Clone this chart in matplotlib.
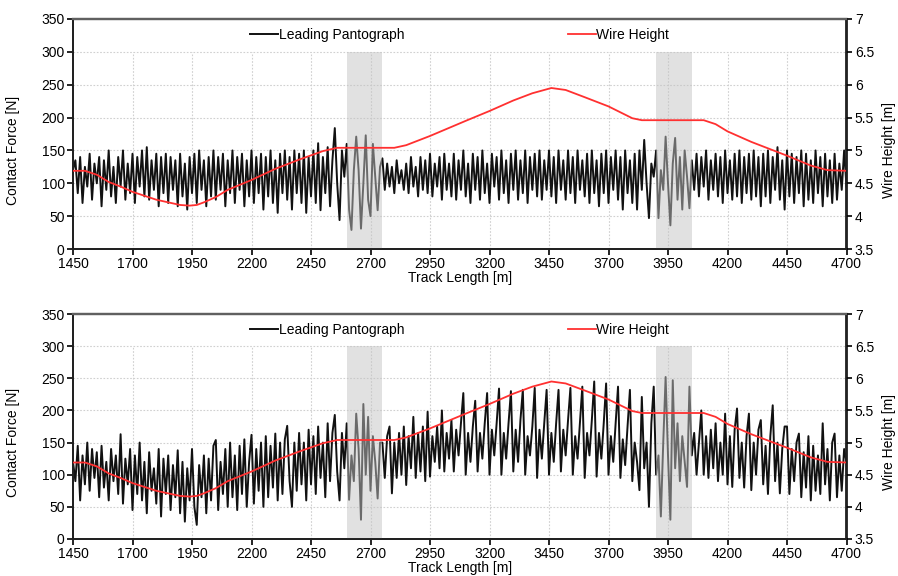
import numpy as np
import matplotlib
matplotlib.use("Agg")
import matplotlib.pyplot as plt

# track positions of the force samples (every 10 m)
track = np.arange(1450, 4701, 10)

# contact force [N], 10 values per 100 m row
force_top = [
    120, 135, 85, 140, 70, 125, 95, 145, 75, 130,
    100, 140, 65, 135, 90, 150, 80, 125, 70, 140,
    95, 150, 75, 130, 85, 145, 70, 140, 95, 150,
    80, 155, 75, 135, 90, 145, 65, 140, 85, 145,
    70, 140, 90, 135, 65, 145, 80, 130, 60, 140,
    85, 145, 70, 150, 90, 135, 65, 140, 80, 150,
    75, 140, 90, 145, 65, 135, 85, 150, 70, 140,
    90, 145, 65, 135, 80, 150, 70, 140, 85, 145,
    60, 140, 80, 150, 70, 135, 55, 145, 85, 150,
    75, 140, 60, 150, 85, 145, 70, 150, 55, 140,
    80, 150, 70, 161, 59, 140, 85, 155, 65, 135,
    184, 100, 44, 150, 110, 160, 60, 29, 120, 171,
    120, 31, 100, 173, 75, 50, 160, 110, 59, 125,
    138, 90, 130, 95, 125, 85, 135, 100, 120, 90,
    130, 85, 140, 95, 125, 80, 140, 90, 135, 85,
    145, 80, 130, 95, 140, 75, 145, 90, 130, 80,
    145, 75, 135, 90, 150, 80, 130, 70, 145, 90,
    140, 75, 150, 85, 130, 70, 145, 95, 140, 75,
    150, 85, 135, 70, 145, 90, 150, 75, 135, 85,
    150, 70, 140, 90, 145, 80, 150, 75, 135, 90,
    150, 80, 140, 70, 150, 90, 135, 75, 150, 85,
    140, 70, 150, 90, 135, 80, 145, 70, 150, 85,
    135, 65, 145, 85, 150, 70, 140, 90, 150, 75,
    140, 60, 150, 85, 135, 70, 145, 60, 150, 90,
    166, 100, 47, 130, 110, 150, 47, 120, 90, 171,
    100, 36, 130, 169, 75, 140, 60, 150, 110, 62,
    135, 90, 145, 80, 140, 95, 150, 75, 135, 90,
    145, 80, 140, 70, 150, 85, 135, 75, 145, 80,
    150, 70, 140, 85, 145, 75, 150, 80, 140, 65,
    145, 80, 150, 70, 140, 90, 155, 75, 135, 60,
    150, 80, 145, 70, 140, 85, 150, 65, 145, 75,
    135, 70, 150, 85, 140, 65, 145, 80, 135, 70,
    145, 75, 130, 90, 150, 95,
]

# contact force [N]
force_bottom = [
    120, 90, 145, 60, 130, 85, 150, 75, 140, 95,
    135, 65, 145, 80, 120, 60, 140, 90, 130, 70,
    163, 55, 125, 85, 140, 45, 130, 70, 150, 60,
    120, 40, 135, 75, 110, 55, 140, 35, 125, 70,
    130, 45, 115, 65, 138, 40, 120, 27, 110, 60,
    140, 50, 22, 115, 65, 130, 40, 125, 60, 145,
    154, 45, 120, 70, 140, 50, 150, 65, 130, 45,
    145, 70, 155, 50, 120, 162, 55, 140, 75, 150,
    50, 160, 65, 145, 80, 164, 60, 150, 70, 155,
    176, 90, 50, 150, 75, 165, 85, 150, 60, 170,
    85, 160, 70, 175, 95, 150, 65, 180, 90, 165,
    193, 105, 60, 165, 110, 180, 61, 130, 90, 195,
    140, 30, 210, 100, 190, 75, 160, 120, 63, 150,
    150, 95, 160, 175, 71, 150, 95, 165, 100, 175,
    84, 160, 110, 190, 95, 165, 105, 175, 90, 198,
    97, 160, 120, 175, 110, 200, 105, 165, 125, 185,
    105, 170, 130, 180, 227, 100, 165, 120, 175, 215,
    105, 165, 125, 180, 227, 100, 170, 130, 180, 234,
    100, 165, 125, 180, 230, 105, 170, 120, 185, 232,
    100, 160, 130, 175, 235, 95, 170, 125, 180, 232,
    100, 165, 120, 180, 232, 105, 170, 130, 185, 235,
    100, 160, 125, 180, 237, 95, 165, 130, 185, 245,
    97, 165, 125, 180, 242, 100, 160, 120, 180, 237,
    95, 155, 115, 175, 232, 90, 150, 120, 76, 221,
    110, 150, 50, 180, 237, 100, 130, 35, 150, 252,
    130, 30, 247, 110, 180, 90, 160, 120, 81, 237,
    130, 165, 100, 150, 200, 100, 160, 95, 170, 110,
    180, 90, 150, 100, 195, 85, 160, 81, 170, 203,
    95, 150, 80, 160, 195, 76, 150, 100, 170, 185,
    85, 145, 70, 160, 208, 90, 150, 71, 140, 175,
    175, 70, 140, 90, 150, 164, 65, 135, 80, 160,
    60, 145, 75, 130, 70, 180, 85, 140, 60, 150,
    164, 65, 130, 75, 140, 120,
]

# overhead wire height (right axis) [m]
wire_x = [1450, 1500, 1550, 1600, 1650, 1700, 1750, 1800, 1850, 1900,
          1940, 1970, 2000, 2050, 2100, 2200, 2300, 2400, 2500, 2560,
          2800, 2850, 2950, 3100, 3200, 3300, 3380, 3460, 3520, 3600,
          3700, 3800, 3840, 4100, 4150, 4200, 4300, 4450, 4550, 4620, 4700]
wire_h = [4.69, 4.69, 4.63, 4.52, 4.45, 4.37, 4.31, 4.25, 4.21, 4.17,
          4.16, 4.17, 4.21, 4.29, 4.40, 4.55, 4.72, 4.86, 4.99, 5.04,
          5.04, 5.08, 5.22, 5.45, 5.60, 5.76, 5.87, 5.95, 5.92, 5.81,
          5.67, 5.49, 5.46, 5.46, 5.40, 5.29, 5.13, 4.92, 4.77, 4.70, 4.69]

# highlighted sections
band_start = [2600, 3900]
band_end = [2750, 4050]

x_ticks = list(range(1450, 4701, 250))
force_ticks = list(range(0, 351, 50))
height_ticks = [3.5, 4, 4.5, 5, 5.5, 6, 6.5, 7]

plt.rcParams['font.family'] = ['Liberation Sans', 'DejaVu Sans']
plt.rcParams['font.size'] = 10

fig = plt.figure(figsize=(8.98, 5.76), dpi=100)
ax_top = fig.add_axes([73 / 898, 1 - 249 / 576, 773.5 / 898, 230 / 576])
ax_bot = fig.add_axes([73 / 898, 1 - 539 / 576, 773.5 / 898, 225 / 576])


def draw_panel(ax, force):
    ax.set_xlim(1450, 4700)
    ax.set_ylim(0, 350)
    ax.set_xticks(x_ticks)
    ax.set_yticks(force_ticks)

    # dotted grid, kept below the legend strip
    for y in force_ticks[1:-1]:
        ax.axhline(y, color='#d0d0d0', lw=0.8, ls=(0, (1.5, 1.5)), zorder=0)
    ax.vlines(x_ticks[1:-1], 0, 300, color='#d0d0d0', lw=0.8,
              linestyles=[(0, (1.5, 1.5))], zorder=0)

    line, = ax.plot(track, force, color='#111111', lw=1.4, zorder=2,
                    label='Leading Pantograph')
    for a, b in zip(band_start, band_end):
        ax.fill_between([a, b], 0, 300, color='#c4c4c4', alpha=0.5,
                        lw=0, zorder=3)

    ax.set_ylabel('Contact Force [N]')
    ax.yaxis.set_label_coords(-0.068, 0.43)
    ax.set_xlabel('Track Length [m]', labelpad=0)
    ax.tick_params(direction='out', length=4, width=1.2, pad=2)

    ax2 = ax.twinx()
    ax2.set_ylim(3.5, 7)
    ax2.set_yticks(height_ticks)
    ax2.set_yticklabels([f'{v:g}' for v in height_ticks])
    red, = ax2.plot(wire_x, wire_h, color='#ff3030', lw=1.3, zorder=4,
                    label='Wire Height')
    ax2.set_ylabel('Wire Height [m]')
    ax2.yaxis.set_label_coords(1.046, 0.43)
    ax2.tick_params(direction='out', length=4, width=1.2, pad=2)

    for a in (ax, ax2):
        for side in ('left', 'right', 'bottom'):
            a.spines[side].set_color('#202020')
            a.spines[side].set_linewidth(1.3)
        a.spines['top'].set_color('#606060')
        a.spines['top'].set_linewidth(1.6)

    ax2.legend([line, red], ['Leading Pantograph', 'Wire Height'],
               loc='upper center', bbox_to_anchor=(0.5, 1.0), ncol=2,
               frameon=False, handlelength=2.0, handletextpad=0.05,
               columnspacing=11.8, borderaxespad=0.25)


draw_panel(ax_top, force_top)
draw_panel(ax_bot, force_bottom)

fig.savefig('out.png', dpi=100)
